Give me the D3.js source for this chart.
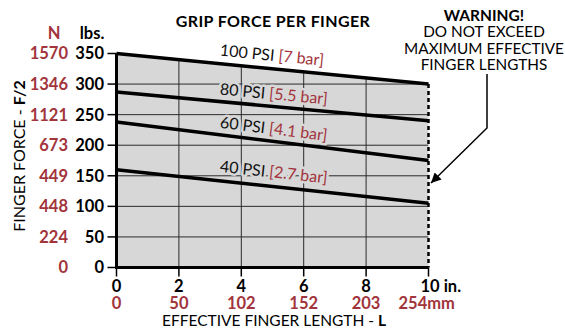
<!DOCTYPE html>
<html>
<head>
<meta charset="utf-8">
<script src="https://cdn.jsdelivr.net/npm/d3@7"></script>
<style>
  html, body { margin: 0; padding: 0; background: #fff; }
  svg { display: block; }
  text { font-family: Lato, "DejaVu Sans", sans-serif; }
</style>
</head>
<body>
<svg id="chart" width="565" height="331"></svg>
<script>
// Effective finger length (in.) and grip force per finger (lbs.) at each supply pressure
const lengthsIn = [0, 10];
const psi100 = [350, 300];
const psi80 = [287, 240];
const psi60 = [238, 175];
const psi40 = [160, 105];

const seriesNames = ["100 PSI", "80 PSI", "60 PSI", "40 PSI"];
const seriesBar = ["[7 bar]", "[5.5 bar]", "[4.1 bar]", "[2.7 bar]"];

// Axis tick labels
const xTicksIn = [0, 2, 4, 6, 8, 10];
const xTicksMm = ["0", "50", "102", "152", "203", "254"];
const yTicksLbs = [0, 50, 100, 150, 200, 250, 300, 350];
const yTicksN = ["0", "224", "448", "449", "673", "1121", "1346", "1570"];

const warningLines = ["DO NOT EXCEED", "MAXIMUM EFFECTIVE", "FINGER LENGTHS"];

const RED = "#a2343b";
const GRAY = "#d7d7d7";

const svg = d3.select("#chart");
const x = d3.scaleLinear().domain([0, 10]).range([116.5, 428.5]);
const y = d3.scaleLinear().domain([0, 350]).range([267.5, 53.5]);

const series = [psi100, psi80, psi60, psi40];
const pts = s => lengthsIn.map((l, i) => [l, s[i]]);

// Shaded operating region below the 100 PSI curve
const regionPts = [[0, 0], ...pts(psi100), [10, 0]];
const line = d3.line().x(d => x(d[0])).y(d => y(d[1]));

const defs = svg.append("defs");
defs.append("clipPath").attr("id", "region")
  .append("path").attr("d", line(regionPts) + "Z");

svg.append("path").attr("d", line(regionPts) + "Z").attr("fill", GRAY);

// Grid, clipped to the shaded region
const grid = svg.append("g").attr("clip-path", "url(#region)")
  .attr("stroke", "#2a2a2a").attr("stroke-width", 1);
yTicksLbs.filter(v => v > 0 && v < 350).forEach(v => {
  grid.append("line").attr("x1", x(0)).attr("x2", x(10)).attr("y1", y(v)).attr("y2", y(v));
});
xTicksIn.filter(v => v > 0 && v < 10).forEach(v => {
  grid.append("line").attr("x1", x(v)).attr("x2", x(v)).attr("y1", y(0)).attr("y2", y(350));
});

// Dashed limit at maximum length
svg.append("line")
  .attr("x1", x(10)).attr("x2", x(10))
  .attr("y1", y(psi100[1])).attr("y2", y(0))
  .attr("stroke", "#000").attr("stroke-width", 2.5).attr("stroke-dasharray", "4,3");

// Curve labels, tilted along each curve (drawn under the curves)
const labelLift = [8, 7, 7, 9];
series.forEach((s, i) => {
  const lx = 3.3;
  const ly = s[0] + (s[1] - s[0]) * lx / 10;
  const ang = Math.atan2(y(s[1]) - y(s[0]), x(10) - x(0)) * 180 / Math.PI;
  const t = svg.append("text")
    .attr("transform", `translate(${x(lx)},${y(ly) - labelLift[i]}) rotate(${ang})`)
    .attr("font-size", 16)
    .attr("paint-order", "stroke")
    .attr("stroke", i === 0 ? "#fff" : GRAY).attr("stroke-width", 5)
    .attr("stroke-linejoin", "round");
  t.append("tspan").attr("fill", "#111").text(seriesNames[i] + " ");
  t.append("tspan").attr("fill", RED).text(seriesBar[i]);
});

// Pressure curves
series.forEach(s => {
  svg.append("path").attr("d", line(pts(s)))
    .attr("fill", "none").attr("stroke", "#000").attr("stroke-width", 3.5);
});

// Axes
const axisG = svg.append("g");
axisG.append("line").attr("x1", x(0)).attr("x2", x(0)).attr("y1", y(0) + 1.5).attr("y2", y(350))
  .attr("stroke", "#000").attr("stroke-width", 3);
axisG.append("line").attr("x1", x(0) - 1.5).attr("x2", x(10)).attr("y1", y(0)).attr("y2", y(0))
  .attr("stroke", "#000").attr("stroke-width", 3);

yTicksLbs.forEach((v, i) => {
  axisG.append("line").attr("x1", x(0) - 9).attr("x2", x(0)).attr("y1", y(v)).attr("y2", y(v))
    .attr("stroke", "#000").attr("stroke-width", 1.5);
  axisG.append("text").attr("x", 104).attr("y", y(v)).attr("dy", "0.36em")
    .attr("text-anchor", "end").attr("font-size", 16.5).attr("font-weight", "bold")
    .attr("fill", "#000").text(v);
  axisG.append("text").attr("x", 68).attr("y", y(v)).attr("dy", "0.36em")
    .attr("text-anchor", "end").attr("font-size", 16.5).attr("font-weight", "bold")
    .attr("fill", RED).text(yTicksN[i]);
});

xTicksIn.forEach((v, i) => {
  axisG.append("line").attr("x1", x(v)).attr("x2", x(v)).attr("y1", y(0)).attr("y2", y(0) + 9)
    .attr("stroke", "#000").attr("stroke-width", 1.5);
  const last = i === xTicksIn.length - 1;
  axisG.append("text").attr("x", x(v)).attr("y", 292)
    .attr("text-anchor", last ? "start" : "middle").attr("dx", last ? -8 : 0)
    .attr("font-size", 16.5).attr("font-weight", "bold").attr("fill", "#000")
    .text(last ? v + " in." : v);
  axisG.append("text").attr("x", x(v)).attr("y", 309)
    .attr("text-anchor", last ? "start" : "middle").attr("dx", last ? -30 : 0)
    .attr("font-size", 16.5).attr("font-weight", "bold").attr("fill", RED)
    .text(last ? xTicksMm[i] + "mm" : xTicksMm[i]);
});

// Unit headers
svg.append("text").attr("x", 54).attr("y", 39).attr("text-anchor", "middle")
  .attr("font-size", 16.5).attr("font-weight", "bold").attr("fill", RED).text("N");
svg.append("text").attr("x", 92).attr("y", 39).attr("text-anchor", "middle")
  .attr("font-size", 16.5).attr("font-weight", "bold").attr("fill", "#000").text("lbs.");

// Axis titles
const xt = svg.append("text").attr("x", 274).attr("y", 326).attr("text-anchor", "middle")
  .attr("font-size", 15.5).attr("fill", "#000");
xt.append("tspan").attr("fill", "#000").text("EFFECTIVE FINGER LENGTH - ");
xt.append("tspan").attr("fill", "#000").attr("font-weight", "bold").text("L");

const yt = svg.append("text").attr("transform", "translate(25,156) rotate(-90)")
  .attr("text-anchor", "middle").attr("font-size", 16).attr("fill", "#000");
yt.append("tspan").attr("fill", "#000").text("FINGER FORCE - ");
yt.append("tspan").attr("fill", "#000").attr("font-weight", "bold").text("F/2");

// Title
svg.append("text").attr("x", 273).attr("y", 27).attr("text-anchor", "middle")
  .attr("font-size", 16).attr("font-weight", "bold").attr("letter-spacing", 0.4)
  .attr("fill", "#000").text("GRIP FORCE PER FINGER");

// Warning note with pointer to the length limit
svg.append("text").attr("x", 484).attr("y", 21).attr("text-anchor", "middle")
  .attr("font-size", 15.5).attr("font-weight", "bold").attr("fill", "#000").text("WARNING!");
warningLines.forEach((s, i) => {
  svg.append("text").attr("x", 484).attr("y", 37 + i * 16.5).attr("text-anchor", "middle")
    .attr("font-size", 15.3).attr("fill", "#000").text(s);
});

defs.append("marker").attr("id", "arrow")
  .attr("viewBox", "0 0 10 10").attr("refX", 10).attr("refY", 5)
  .attr("markerWidth", 10).attr("markerHeight", 10).attr("markerUnits", "userSpaceOnUse")
  .attr("orient", "auto")
  .append("path").attr("d", "M0,0 L10,5 L0,10 Z").attr("fill", "#000");

svg.append("path").attr("d", "M487,74 L487,128 L431,183")
  .attr("fill", "none").attr("stroke", "#000").attr("stroke-width", 1.5)
  .attr("marker-end", "url(#arrow)");
</script>
</body>
</html>
